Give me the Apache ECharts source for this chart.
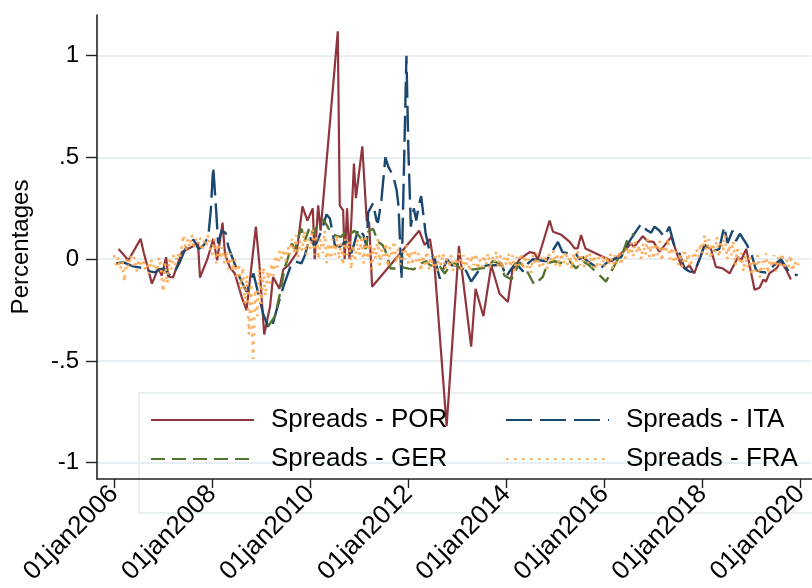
<!DOCTYPE html>
<html>
<head>
<meta charset="utf-8">
<script src="https://cdn.jsdelivr.net/npm/echarts@6/dist/echarts.min.js"></script>
<style>
  html, body { margin: 0; padding: 0; background: #fff; }
  #chart { width: 812px; height: 588px; }
</style>
</head>
<body>
<div id="chart"></div>
<script>
// ---- data (dates as decimal years) ----
const yTicks = [-1, -0.5, 0, 0.5, 1];
const xTicks = [2006, 2008, 2010, 2012, 2014, 2016, 2018, 2020];

const porDates = [2006.09, 2006.29, 2006.54, 2006.60, 2006.77, 2006.90, 2006.97, 2007.06, 2007.10, 2007.20,
  2007.38, 2007.50, 2007.62, 2007.71, 2007.75, 2007.90, 2008.02, 2008.10, 2008.21, 2008.26,
  2008.36, 2008.46, 2008.60, 2008.70, 2008.89, 2008.96, 2009.06, 2009.18, 2009.24, 2009.37,
  2009.45, 2009.55, 2009.72, 2009.84, 2009.94, 2010.05, 2010.09, 2010.16, 2010.21, 2010.56,
  2010.60, 2010.67, 2010.70, 2010.75, 2010.80, 2010.89, 2010.93, 2011.06, 2011.15, 2011.20,
  2011.26, 2012.22, 2012.33, 2012.44, 2012.54, 2012.78, 2013.03, 2013.28, 2013.37, 2013.53,
  2013.69, 2013.86, 2014.03, 2014.12, 2014.27, 2014.47, 2014.57, 2014.64, 2014.88, 2014.95,
  2015.12, 2015.29, 2015.39, 2015.45, 2015.52, 2015.61, 2016.03, 2016.15, 2016.44, 2016.54,
  2016.60, 2016.78, 2016.88, 2017.00, 2017.12, 2017.36, 2017.56, 2017.66, 2017.73, 2017.83,
  2018.04, 2018.17, 2018.27, 2018.41, 2018.55, 2018.72, 2018.79, 2018.89, 2019.06, 2019.16,
  2019.24, 2019.29, 2019.36, 2019.50, 2019.60, 2019.70, 2019.80];
const porValues = [0.05, -0.005, 0.10, 0.035, -0.12, -0.045, -0.08, 0.01, -0.085, -0.09,
  0.035, 0.05, 0.065, 0.08, -0.09, 0.0, 0.10, -0.005, 0.18, 0.025,
  -0.04, -0.07, -0.185, -0.25, 0.16, -0.02, -0.37, -0.23, -0.087, -0.145,
  -0.05, -0.03, 0.03, 0.26, 0.19, 0.25, 0.0, 0.265, 0.14, 1.12,
  0.265, 0.24, 0.0, 0.25, 0.0, 0.47, 0.30, 0.555, 0.19, 0.18,
  -0.135, 0.14, 0.07, 0.10, -0.055, -0.82, 0.065, -0.43, -0.145, -0.28,
  -0.03, -0.17, -0.21, -0.054, 0.0, 0.035, 0.03, 0.0, 0.19, 0.135,
  0.12, 0.085, 0.053, 0.053, 0.118, 0.053, 0.005, -0.01, 0.05, 0.077,
  0.06, 0.113, 0.088, 0.085, 0.036, 0.11, -0.03, -0.045, -0.03, -0.07,
  0.069, 0.05, -0.038, -0.045, -0.07, 0.01, -0.003, 0.05, -0.15, -0.14,
  -0.10, -0.11, -0.07, -0.046, -0.013, -0.05, -0.10];

const itaDates = [2006.04, 2006.19, 2006.29, 2006.39, 2006.51, 2006.63, 2006.73, 2006.83, 2006.92, 2007.02,
  2007.14, 2007.22, 2007.34, 2007.45, 2007.55, 2007.62, 2007.72, 2007.83, 2007.92, 2007.97,
  2008.02, 2008.08, 2008.12, 2008.19, 2008.27, 2008.33, 2008.43, 2008.53, 2008.57, 2008.70,
  2008.84, 2008.94, 2009.04, 2009.14, 2009.21, 2009.30, 2009.45, 2009.59, 2009.69, 2009.82,
  2009.89, 2009.99, 2010.09, 2010.23, 2010.33, 2010.40, 2010.50, 2010.60, 2010.72, 2010.84,
  2010.98, 2011.08, 2011.15, 2011.18, 2011.28, 2011.35, 2011.38, 2011.45, 2011.53, 2011.59,
  2011.69, 2011.76, 2011.80, 2011.86, 2011.93, 2011.96, 2012.00, 2012.05, 2012.11, 2012.16,
  2012.21, 2012.26, 2012.35, 2012.44, 2012.54, 2012.64, 2012.79, 2012.88, 2013.03, 2013.16,
  2013.28, 2013.45, 2013.59, 2013.79, 2013.90, 2013.99, 2014.09, 2014.19, 2014.34, 2014.44,
  2014.54, 2014.81, 2015.05, 2015.14, 2015.25, 2015.42, 2015.49, 2015.56, 2015.66, 2015.90,
  2016.03, 2016.17, 2016.34, 2016.44, 2016.54, 2016.75, 2016.85, 2016.95, 2017.02, 2017.12,
  2017.22, 2017.32, 2017.42, 2017.53, 2017.63, 2017.73, 2017.83, 2017.97, 2018.04, 2018.14,
  2018.21, 2018.34, 2018.44, 2018.51, 2018.61, 2018.68, 2018.76, 2018.89, 2018.99, 2019.09,
  2019.19, 2019.29, 2019.39, 2019.50, 2019.60, 2019.70, 2019.80, 2019.94];
const itaValues = [-0.02, -0.016, -0.025, -0.035, -0.04, -0.046, -0.06, -0.065, -0.05, -0.046,
  -0.08, -0.07, -0.013, 0.05, 0.077, 0.097, 0.05, 0.07, 0.113, 0.24,
  0.455, 0.24, 0.077, 0.14, 0.13, 0.06, -0.005, -0.07, -0.095, -0.16,
  -0.07, -0.17, -0.27, -0.33, -0.34, -0.26, -0.135, -0.04, -0.01, -0.02,
  0.02, 0.11, 0.06, 0.14, 0.22, 0.20, 0.07, 0.06, 0.09, 0.03,
  0.15, 0.12, 0.06, 0.23, 0.275, 0.19, 0.18, 0.29, 0.50, 0.455,
  0.41, 0.34, 0.26, -0.10, 0.67, 1.0, 0.535, 0.16, 0.25, 0.19,
  0.26, 0.31, 0.13, 0.03, 0.0, -0.095, 0.0, -0.03, -0.03, -0.05,
  -0.11, -0.05, -0.03, -0.03, -0.02, -0.087, -0.05, -0.02, -0.06, -0.02,
  0.0, -0.01, 0.085, 0.035, 0.03, 0.025, 0.0, 0.01, -0.01, -0.05,
  -0.02, 0.0, 0.01, 0.06, 0.10, 0.175, 0.145, 0.13, 0.16, 0.14,
  0.11, 0.16, 0.07, 0.028, -0.045, -0.06, -0.065, 0.02, 0.07, 0.05,
  0.04, 0.05, 0.16, 0.08, 0.14, 0.09, 0.125, 0.077, 0.03, -0.054,
  -0.062, -0.065, -0.045, -0.02, 0.0, -0.04, -0.075, -0.078];

const gerDates = [2009.14, 2009.28, 2009.38, 2009.48, 2009.55, 2009.62, 2009.69, 2009.76, 2009.82, 2009.89,
  2009.99, 2010.06, 2010.16, 2010.26, 2010.33, 2010.43, 2010.53, 2010.63, 2010.70, 2010.80,
  2010.90, 2011.01, 2011.06, 2011.13, 2011.18, 2011.28, 2011.38, 2011.47, 2011.52, 2011.64,
  2011.74, 2011.88, 2012.01, 2012.11, 2012.26, 2012.37, 2012.44, 2012.64, 2012.74, 2012.84,
  2012.95, 2013.05, 2013.19, 2013.33, 2013.62, 2013.72, 2013.86, 2013.96, 2014.10, 2014.27,
  2014.40, 2014.51, 2014.57, 2014.74, 2014.84, 2014.98, 2015.15, 2015.29, 2015.42, 2015.56,
  2015.69, 2015.90, 2016.03, 2016.17, 2016.27, 2016.37, 2016.47, 2016.54, 2016.60];
const gerValues = [-0.33, -0.28, -0.17, -0.04, 0.01, 0.077, 0.05, 0.11, 0.15, 0.09,
  0.16, 0.12, 0.175, 0.195, 0.17, 0.126, 0.115, 0.11, 0.13, 0.12,
  0.14, 0.11, 0.09, 0.05, 0.135, 0.15, 0.086, 0.07, 0.05, -0.046,
  -0.046, -0.04, -0.046, -0.05, -0.02, -0.01, -0.03, -0.035, -0.07, -0.035,
  -0.02, -0.045, -0.05, -0.05, -0.04, -0.01, -0.02, -0.08, -0.10, -0.015,
  -0.05, -0.10, -0.125, -0.087, -0.02, -0.01, -0.02, -0.01, -0.045, -0.01,
  -0.03, -0.08, -0.11, -0.045, 0.0, 0.03, 0.10, 0.11, 0.127];

// FRA: two readings per month, Jan 2006 - Dec 2019
const fraStart = 2006;
const fraPerYear = 24;
const fraValues = [
  0.02, -0.03, 0.01, -0.05, -0.01, -0.11, 0.0, -0.04, 0.02, -0.03, 0.01, -0.06, -0.01, -0.03, 0.0, -0.05, -0.02, -0.07, 0.0, -0.04, -0.02, -0.06, 0.01, -0.05,
  -0.16, -0.02, -0.12, 0.0, -0.05, 0.02, -0.03, 0.03, 0.0, 0.06, 0.12, 0.04, 0.1, 0.06, 0.12, 0.05, 0.1, 0.07, 0.11, 0.04, 0.09, 0.06, 0.12, 0.05,
  0.02, 0.1, -0.02, 0.08, 0.0, 0.06, -0.02, 0.04, -0.05, 0.03, -0.06, 0.0, -0.1, -0.02, -0.15, -0.04, -0.22, -0.08, -0.37, -0.12, -0.49, -0.15, -0.28, -0.05,
  -0.22, -0.04, -0.18, -0.06, -0.12, -0.02, -0.08, 0.02, -0.04, 0.04, 0.0, 0.05, -0.01, 0.06, 0.02, 0.1, 0.03, 0.12, 0.01, 0.09, 0.04, 0.14, 0.02, 0.1,
  0.05, 0.15, 0.02, 0.12, 0.0, 0.1, 0.03, 0.14, -0.02, 0.08, 0.0, 0.1, 0.02, 0.12, 0.0, 0.08, -0.03, 0.1, 0.02, 0.09, -0.05, 0.07, 0.0, 0.1,
  0.02, 0.1, -0.02, 0.12, 0.0, 0.08, -0.05, 0.06, 0.0, 0.1, -0.03, 0.05, 0.0, 0.08, -0.04, 0.06, 0.01, 0.09, -0.02, 0.05, -0.03, 0.04, 0.0, 0.07,
  -0.02, 0.04, -0.03, 0.05, -0.01, 0.03, -0.06, 0.02, -0.03, 0.04, -0.05, 0.01, -0.04, 0.03, -0.06, 0.02, -0.03, 0.03, -0.05, 0.01, -0.04, 0.02, -0.06, 0.0,
  -0.03, 0.03, -0.05, 0.02, -0.04, 0.01, -0.06, 0.02, -0.03, 0.03, -0.05, 0.0, -0.04, 0.02, -0.03, 0.03, -0.05, 0.01, -0.02, 0.04, -0.04, 0.02, -0.05, 0.01,
  -0.03, 0.03, -0.04, 0.02, -0.06, 0.01, -0.03, 0.03, -0.05, 0.02, -0.04, 0.0, -0.07, 0.02, -0.03, 0.03, -0.04, 0.01, -0.03, 0.02, -0.05, 0.03, -0.02, 0.04,
  -0.03, 0.02, -0.04, 0.03, -0.02, 0.04, -0.03, 0.02, -0.05, 0.03, -0.02, 0.04, -0.03, 0.02, -0.04, 0.03, -0.02, 0.03, -0.04, 0.02, -0.05, 0.01, -0.03, 0.02,
  -0.04, 0.02, -0.03, 0.03, -0.05, 0.02, -0.02, 0.04, -0.03, 0.03, 0.0, 0.06, 0.02, 0.08, 0.01, 0.09, 0.03, 0.07, 0.0, 0.08, 0.02, 0.1, 0.01, 0.07,
  0.0, 0.08, 0.02, 0.09, -0.01, 0.07, 0.03, 0.1, 0.0, 0.06, -0.02, 0.04, -0.03, 0.03, -0.04, 0.05, -0.02, 0.03, -0.04, 0.02, 0.0, 0.05, 0.01, 0.08,
  0.03, 0.12, 0.02, 0.1, 0.0, 0.08, 0.03, 0.11, 0.01, 0.09, 0.04, 0.12, 0.0, 0.07, 0.02, 0.09, -0.03, 0.05, -0.02, 0.03, -0.06, 0.02, -0.04, 0.01,
  -0.08, 0.0, -0.06, 0.02, -0.09, -0.01, -0.05, 0.03, -0.07, 0.0, -0.04, 0.02, -0.06, 0.01, -0.03, 0.03, -0.05, 0.0, -0.04, 0.02, -0.06, -0.01, -0.04, -0.02
];

const seriesNames = ['Spreads - POR', 'Spreads - ITA', 'Spreads - GER', 'Spreads - FRA'];

function pairs(dates, values) {
  return dates.map((d, i) => [d, values[i]]);
}
const fraDates = fraValues.map((v, i) => fraStart + i / fraPerYear);

const font = 'Liberation Sans, Arial, Helvetica, sans-serif';

function fmtY(v) {
  if (v === 0) return '0';
  const s = String(Math.abs(v)).replace(/^0\./, '.');
  return (v < 0 ? '-' : '') + s;
}

function legendBlock(left, names) {
  return {
    orient: 'vertical',
    left: left,
    top: 407,
    padding: 0,
    itemGap: 13,
    itemWidth: 103,
    itemHeight: 2,
    itemStyle: { opacity: 0 },
    data: names,
    textStyle: { fontSize: 26, lineHeight: 26, color: '#000', fontFamily: font, padding: [0, 0, 0, 12] }
  };
}

const chart = echarts.init(document.getElementById('chart'), null, { renderer: 'canvas' });

const option = {
  animation: false,
  backgroundColor: '#fff',
  textStyle: { fontFamily: font },
  grid: { left: 97, right: 0, top: 15, bottom: 109 },
  xAxis: {
    type: 'value',
    min: 2005.65,
    max: 2020.215,
    axisLine: { show: true, onZero: false, lineStyle: { color: '#222', width: 1.6 } },
    axisTick: { show: true, length: 9, customValues: xTicks, lineStyle: { color: '#222', width: 1.4 } },
    axisLabel: {
      customValues: xTicks,
      rotate: 45,
      margin: 11,
      fontSize: 26,
      color: '#000',
      fontFamily: font,
      formatter: v => '01jan' + v
    },
    splitLine: { show: false }
  },
  yAxis: {
    type: 'value',
    min: -1.08,
    max: 1.2,
    name: 'Percentages',
    nameLocation: 'middle',
    nameGap: 64,
    nameTextStyle: { fontSize: 24, color: '#000', fontFamily: font },
    axisLine: { show: true, onZero: false, lineStyle: { color: '#222', width: 1.6 } },
    axisTick: { show: true, length: 11, customValues: yTicks, lineStyle: { color: '#222', width: 1.4 } },
    axisLabel: {
      customValues: yTicks,
      margin: 18,
      fontSize: 24,
      color: '#000',
      fontFamily: font,
      formatter: fmtY
    },
    splitLine: { show: true, lineStyle: { color: '#e6eef1', width: 2 } }
  },
  legend: [
    legendBlock(150, [seriesNames[0], seriesNames[2]]),
    legendBlock(505, [seriesNames[1], seriesNames[3]])
  ],
  graphic: [{
    type: 'rect',
    silent: true,
    z: 0,
    shape: { x: 139, y: 393, width: 700, height: 120 },
    style: { fill: 'none', stroke: '#e3ebee', lineWidth: 1.5 }
  }],
  series: [{
    name: seriesNames[0],
    type: 'line',
    symbol: 'none',
    data: pairs(porDates, porValues),
    lineStyle: { color: '#90353b', width: 2.2 },
    itemStyle: { color: '#90353b' },
    z: 3
  }, {
    name: seriesNames[1],
    type: 'line',
    symbol: 'none',
    data: pairs(itaDates, itaValues),
    lineStyle: { color: '#1a476f', width: 2.4, type: [26, 8] },
    itemStyle: { color: '#1a476f' },
    z: 4
  }, {
    name: seriesNames[2],
    type: 'line',
    symbol: 'none',
    data: pairs(gerDates, gerValues),
    lineStyle: { color: '#55752f', width: 2.4, type: [14, 7] },
    itemStyle: { color: '#55752f' },
    z: 5
  }, {
    name: seriesNames[3],
    type: 'line',
    symbol: 'none',
    data: pairs(fraDates, fraValues),
    lineStyle: { color: '#ffa851', width: 2.8, type: [2.5, 5.5], opacity: 0.9 },
    itemStyle: { color: '#ffa851' },
    z: 6
  }]
};

chart.setOption(option);
</script>
</body>
</html>
